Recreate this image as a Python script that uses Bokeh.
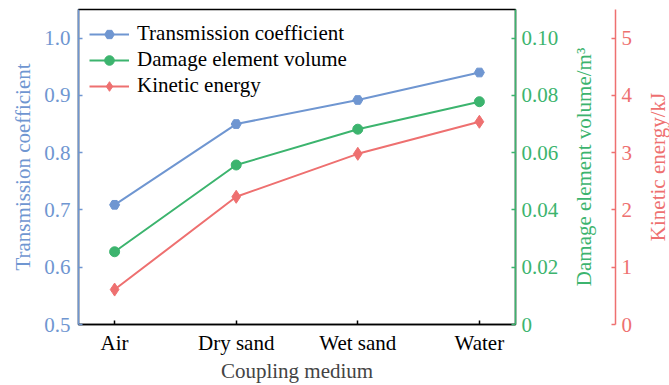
import math
from bokeh.plotting import figure
from bokeh.layouts import row
from bokeh.models import Range1d, FixedTicker, Legend, LegendItem, Label, LinearAxis
from bokeh.embed import file_html
from bokeh.resources import INLINE

# Coupling media along the x axis
media = ["Air", "Dry sand", "Wet sand", "Water"]
# Series values
transmission = [0.709, 0.850, 0.892, 0.940]
damage_volume = [0.0254, 0.0557, 0.0682, 0.0778]   # m^3
kinetic_energy = [0.61, 2.23, 2.98, 3.54]          # kJ

left_ticks = [0.5, 0.6, 0.7, 0.8, 0.9, 1.0]
left_labels = ["0.5", "0.6", "0.7", "0.8", "0.9", "1.0"]
green_ticks = [0, 0.02, 0.04, 0.06, 0.08, 0.10]
green_labels = ["0", "0.02", "0.04", "0.06", "0.08", "0.10"]
red_ticks = [0, 1, 2, 3, 4, 5]
red_labels = ["0", "1", "2", "3", "4", "5"]

BLUE = "#6F96D1"
GREEN = "#3CB46E"
RED = "#EE7070"
FONT = "Liberation Serif"
FS = "21px"
H = 385
TOP, BOTTOM = 9, 60

xs = list(range(len(media)))


def bare(fig):
    fig.grid.visible = False
    fig.outline_line_color = None
    fig.background_fill_color = "white"
    fig.border_fill_color = "white"


def style_y(ax, color, ticks, labels, label_standoff):
    ax.ticker = FixedTicker(ticks=ticks)
    ax.major_label_overrides = {t: l for t, l in zip(ticks, labels)}
    ax.minor_tick_line_color = None
    ax.major_tick_in = 4
    ax.major_tick_out = 0
    ax.major_tick_line_color = color
    ax.major_tick_line_width = 1.5
    ax.axis_line_color = color
    ax.axis_line_width = 1.5
    ax.major_label_standoff = label_standoff
    ax.major_label_text_font = FONT
    ax.major_label_text_font_size = FS
    ax.major_label_text_color = color


# ---- main panel: data, left axis and the volume axis ----
p = figure(width=561, height=H, output_backend="svg", toolbar_location=None,
           x_range=Range1d(-0.297, len(media) - 1 + 0.297),
           y_range=Range1d(0.5, 1.05),
           min_border_left=78, min_border_right=46,
           min_border_top=TOP, min_border_bottom=BOTTOM)
p.extra_y_ranges = {"vol": Range1d(0, 0.11), "ke": Range1d(0, 5.5)}
bare(p)
p.outline_line_color = "black"
p.outline_line_width = 1.5

xa = p.xaxis[0]
xa.ticker = FixedTicker(ticks=xs)
xa.major_label_overrides = {i: m for i, m in enumerate(media)}
xa.minor_tick_line_color = None
xa.major_tick_in = 4
xa.major_tick_out = 0
xa.major_tick_line_width = 1.5
xa.axis_line_width = 1.5
xa.axis_line_color = "black"
xa.major_label_standoff = 6
xa.major_label_text_font = FONT
xa.major_label_text_font_size = FS
xa.major_label_text_color = "black"
xa.axis_label = "Coupling medium"
xa.axis_label_text_font = FONT
xa.axis_label_text_font_size = FS
xa.axis_label_text_font_style = "normal"
xa.axis_label_standoff = 1

ya = p.yaxis[0]
style_y(ya, BLUE, left_ticks, left_labels, 8)
ya.axis_label = "Transmission coefficient"
ya.axis_label_text_font = FONT
ya.axis_label_text_font_size = FS
ya.axis_label_text_font_style = "normal"
ya.axis_label_text_color = BLUE
ya.axis_label_standoff = 6

ax_vol = LinearAxis(y_range_name="vol")
style_y(ax_vol, GREEN, green_ticks, green_labels, 6)
p.add_layout(ax_vol, "right")

l1 = p.line(xs, transmission, line_color=BLUE, line_width=2)
m1 = p.scatter(xs, transmission, marker="hex", size=10, fill_color=BLUE, line_color=BLUE)
l2 = p.line(xs, damage_volume, line_color=GREEN, line_width=2, y_range_name="vol")
m2 = p.scatter(xs, damage_volume, marker="circle", size=10, fill_color=GREEN, line_color=GREEN,
               y_range_name="vol")
l3 = p.line(xs, kinetic_energy, line_color=RED, line_width=2, y_range_name="ke")
m3 = p.scatter(xs, kinetic_energy, marker="diamond", size=13,
               fill_color=RED, line_color=RED, y_range_name="ke")

legend = Legend(items=[
    LegendItem(label="Transmission coefficient", renderers=[l1, m1]),
    LegendItem(label="Damage element volume", renderers=[l2, m2]),
    LegendItem(label="Kinetic energy", renderers=[l3, m3]),
], location=(11, 226))
legend.border_line_color = None
legend.background_fill_alpha = 0
legend.margin = 0
legend.padding = 0
legend.spacing = 1
legend.glyph_width = 40
legend.glyph_height = 24
legend.label_height = 24
legend.label_standoff = 8
legend.label_text_font = FONT
legend.label_text_font_size = FS
legend.label_text_color = "black"
p.add_layout(legend)

# ---- middle panel: volume axis title and the kinetic-energy axis ----
mid_w = 54
p_ke = figure(width=mid_w + 26, height=H, output_backend="svg", toolbar_location=None,
              x_range=Range1d(0, mid_w), y_range=Range1d(0, 5.5),
              x_axis_location=None, y_axis_location="right",
              min_border_left=0, min_border_right=26,
              min_border_top=TOP, min_border_bottom=BOTTOM)
bare(p_ke)
style_y(p_ke.yaxis[0], RED, red_ticks, red_labels, 6)
p_ke.add_layout(Label(x=22, y=2.75, text="Damage element volume/m³", angle=math.pi / 2,
                      text_align="center", text_baseline="middle",
                      text_font=FONT, text_font_size=FS, text_color=GREEN))

# ---- right panel: kinetic-energy axis title ----
rt_w = 669 - 561 - (mid_w + 26)
p_rt = figure(width=rt_w, height=H, output_backend="svg", toolbar_location=None,
              x_range=Range1d(0, rt_w), y_range=Range1d(0, 1),
              x_axis_location=None, y_axis_location=None,
              min_border_left=0, min_border_right=0,
              min_border_top=TOP, min_border_bottom=BOTTOM)
bare(p_rt)
p_rt.add_layout(Label(x=16, y=0.5, text="Kinetic energy/kJ", angle=math.pi / 2,
                      text_align="center", text_baseline="middle",
                      text_font=FONT, text_font_size=FS, text_color=RED))

layout = row(p, p_ke, p_rt)
open("out.html", "w").write(file_html(layout, INLINE))
